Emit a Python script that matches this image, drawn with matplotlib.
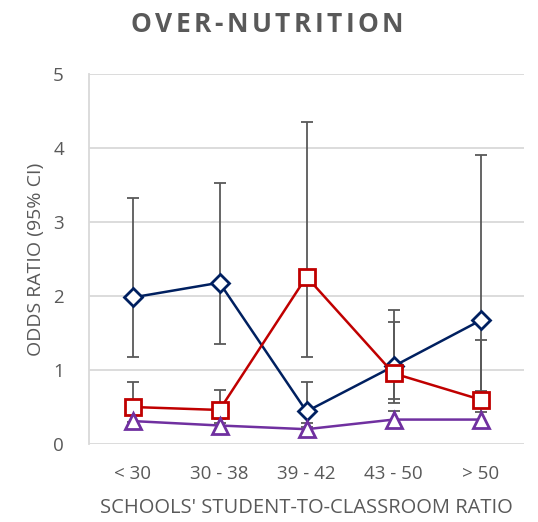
import numpy as np
import matplotlib
matplotlib.use('Agg')
import matplotlib.pyplot as plt

# categories on the x axis
categories = ['< 30', '30 - 38', '39 - 42', '43 - 50', '> 50']

# odds ratios and 95% CI
blue_or = [1.98, 2.18, 0.44, 1.05, 1.67]
blue_lo = [1.18, 1.35, 0.23, 0.61, 0.71]
blue_hi = [3.33, 3.53, 0.84, 1.81, 3.91]

red_or = [0.50, 0.46, 2.26, 0.955, 0.60]
red_lo = [0.30, 0.29, 1.17, 0.55, 0.26]
red_hi = [0.84, 0.73, 4.35, 1.65, 1.41]

purple_or = [0.31, 0.25, 0.20, 0.33, 0.33]
purple_lo = [0.22, 0.18, 0.14, 0.24, 0.25]
purple_hi = [0.40, 0.34, 0.28, 0.45, 0.43]

text_col = '#595959'
grid_col = '#D9D9D9'

plt.rcParams['font.family'] = ['Open Sans', 'DejaVu Sans']

fig = plt.figure(figsize=(5.38, 5.22), dpi=100)
ax = fig.add_axes([89 / 538, 1 - 444 / 522, 435 / 538, 370 / 522])

x = np.arange(1, len(categories) + 1)

series = [
    (blue_or, blue_lo, blue_hi, '#002060', 'D', 9.5),
    (red_or, red_lo, red_hi, '#C00000', 's', 11.5),
    (purple_or, purple_lo, purple_hi, '#7030A0', '^', 12),
]

for i, (vals, lo, hi, col, mk, ms) in enumerate(series):
    vals = np.array(vals)
    yerr = [vals - np.array(lo), np.array(hi) - vals]
    # error bars first so lines and markers sit on top
    ax.errorbar(x, vals, yerr=yerr, fmt='none', ecolor=text_col,
                elinewidth=1.3, capsize=4.5, capthick=1.3, zorder=2)
    ax.plot(x, vals, color=col, linewidth=1.8, marker=mk, markersize=ms,
            markerfacecolor='white', markeredgecolor=col,
            markeredgewidth=2, zorder=3 + i)

ax.set_xlim(0.5, len(categories) + 0.5)
ax.set_ylim(0, 5)
ax.set_yticks(range(0, 6))
ax.set_xticks(x)
ax.set_xticklabels(categories)
ax.grid(axis='y', color=grid_col, linewidth=1.3)
ax.set_axisbelow(True)

for side in ['top', 'right', 'bottom']:
    ax.spines[side].set_visible(False)
ax.spines['left'].set_color(grid_col)
ax.spines['left'].set_linewidth(1.3)

ax.tick_params(axis='y', length=0, pad=18, labelsize=13.5, labelcolor=text_col)
ax.tick_params(axis='x', length=0, pad=15, labelsize=13.5, labelcolor=text_col)

ax.set_ylabel('ODDS RATIO (95% CI)', fontsize=14, color=text_col, labelpad=6)
ax.set_xlabel("SCHOOLS' STUDENT-TO-CLASSROOM RATIO", fontsize=14.5,
              color=text_col, labelpad=11)

# spread the title letters a little like the original
title = 'OVER-NUTRITION'
fig.canvas.draw()
renderer = fig.canvas.get_renderer()
widths = []
for ch in title:
    t = fig.text(0, 0, ch, fontsize=19, fontweight='bold')
    widths.append(t.get_window_extent(renderer).width)
    t.remove()
spacing = 3.5
total = sum(widths) + spacing * (len(title) - 1)
x0 = 267 - total / 2
for ch, w in zip(title, widths):
    fig.text(x0 / 538, 1 - 25 / 522, ch, fontsize=19, fontweight='bold',
             color=text_col, ha='left', va='center')
    x0 += w + spacing

fig.savefig('out.png', dpi=100)
